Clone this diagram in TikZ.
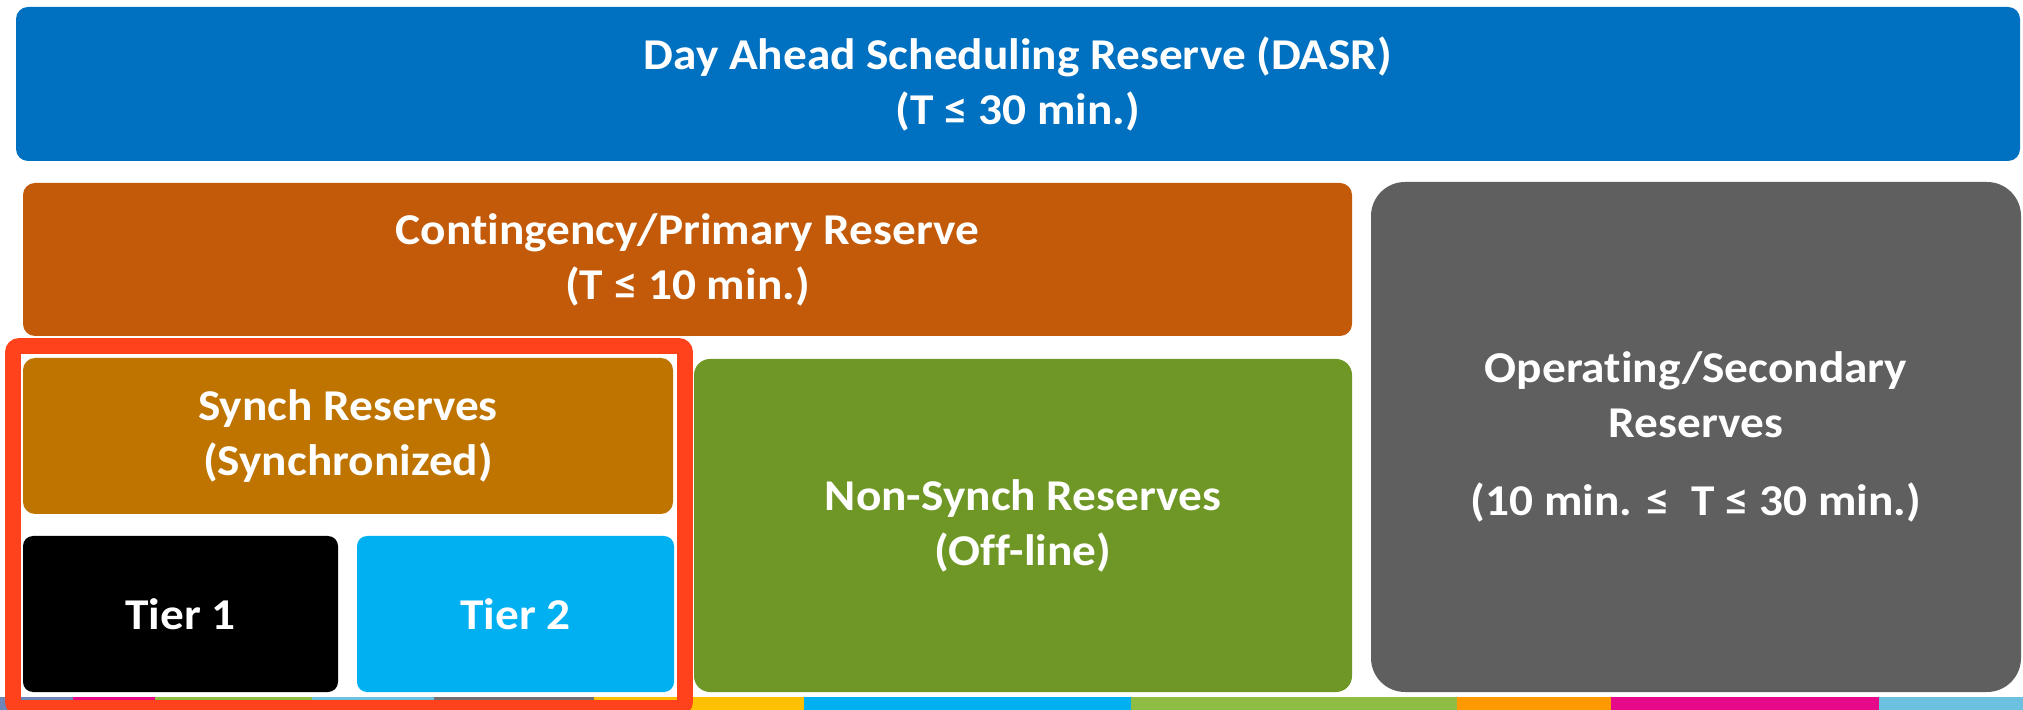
\documentclass[tikz,border=0pt]{standalone}
\usepackage{fontspec}
\setmainfont{Carlito}[FakeStretch=1.075, Ligatures={NoCommon}]
\usepackage{tikz}
\usepackage{xcolor}

\definecolor{dasrblue}{HTML}{0070C0}
\definecolor{contorange}{HTML}{C25A09}
\definecolor{synchgold}{HTML}{C07400}
\definecolor{tiercyan}{HTML}{00B0F0}
\definecolor{offgreen}{HTML}{6F9726}
\definecolor{opergray}{HTML}{5F5F5F}
\definecolor{markred}{HTML}{FF421B}
\definecolor{stripsteel}{HTML}{6F87B8}
\definecolor{stripmagenta}{HTML}{E6098A}
\definecolor{stripgreen}{HTML}{8FBC42}
\definecolor{striplblue}{HTML}{6CC0E0}
\definecolor{stripgray}{HTML}{707070}
\definecolor{stripyellow}{HTML}{FFC000}
\definecolor{striporange}{HTML}{FF9900}

\tikzset{
  reservebox/.style={draw=none, inner sep=0pt, rounded corners=6pt, text=white,
    align=center, font=\fontsize{22}{27.5}\selectfont\bfseries},
}

\begin{document}
\begin{tikzpicture}[x=0.5pt,y=-0.5pt]
            \clip (0,0) rectangle (2023,710);
            \fill[white] (0,0) rectangle (2023,710);

            % colour strip at the foot
            \fill[stripsteel] (0,697) rectangle (73,710);
            \fill[stripmagenta] (73,697) rectangle (155,710);
            \fill[stripgreen] (155,697) rectangle (312,710);
            \fill[striplblue] (312,697) rectangle (434,710);
            \fill[stripgray] (434,697) rectangle (594,710);
            \fill[stripyellow] (594,697) rectangle (804,710);
            \fill[tiercyan] (804,697) rectangle (1131,710);
            \fill[stripgreen] (1131,697) rectangle (1457,710);
            \fill[striporange] (1457,697) rectangle (1611,710);
            \fill[stripmagenta] (1611,697) rectangle (1879,710);
            \fill[striplblue] (1879,697) rectangle (2023,710);

            % reserve boxes
            \node[reservebox, fill=dasrblue, minimum width=1002pt, minimum height=77pt] (dasr) at (1018,84)
                {Day Ahead Scheduling Reserve (DASR)\\(T ≤ 30 min.)};
            \node[reservebox, fill=contorange, minimum width=664.5pt, minimum height=76.5pt] (cont) at (687.5,259.5)
                {Contingency/Primary Reserve\\(T ≤ 10 min.)};
            \node[reservebox, fill=opergray, rounded corners=17pt, minimum width=325pt, minimum height=255pt] (oper) at (1696,437)
                {Operating/Secondary\\Reserves\\[11.5pt](10 min. ≤\ \ T ≤ 30 min.)};
            \node[reservebox, fill=synchgold, minimum width=325pt, minimum height=78pt] (synch) at (348,436)
                {Synch Reserves\\(Synchronized)};
            \node[reservebox, fill=black, rounded corners=5pt, minimum width=157.5pt, minimum height=78pt] (tier1) at (180.5,614)
                {Tier 1};
            \node[reservebox, fill=tiercyan, rounded corners=5pt, minimum width=158.5pt, minimum height=78pt] (tier2) at (515.5,614)
                {Tier 2};
            \node[reservebox, fill=offgreen, rounded corners=8pt, minimum width=329pt, minimum height=166.5pt] (nonsynch) at (1023,525.5)
                {Non-Synch Reserves\\(Off-line)};

            % red frame round the synchronized reserves
            \draw[markred, line width=7.8pt, rounded corners=3pt] (13,346) rectangle (685,708);
        \end{tikzpicture}
\end{document}
